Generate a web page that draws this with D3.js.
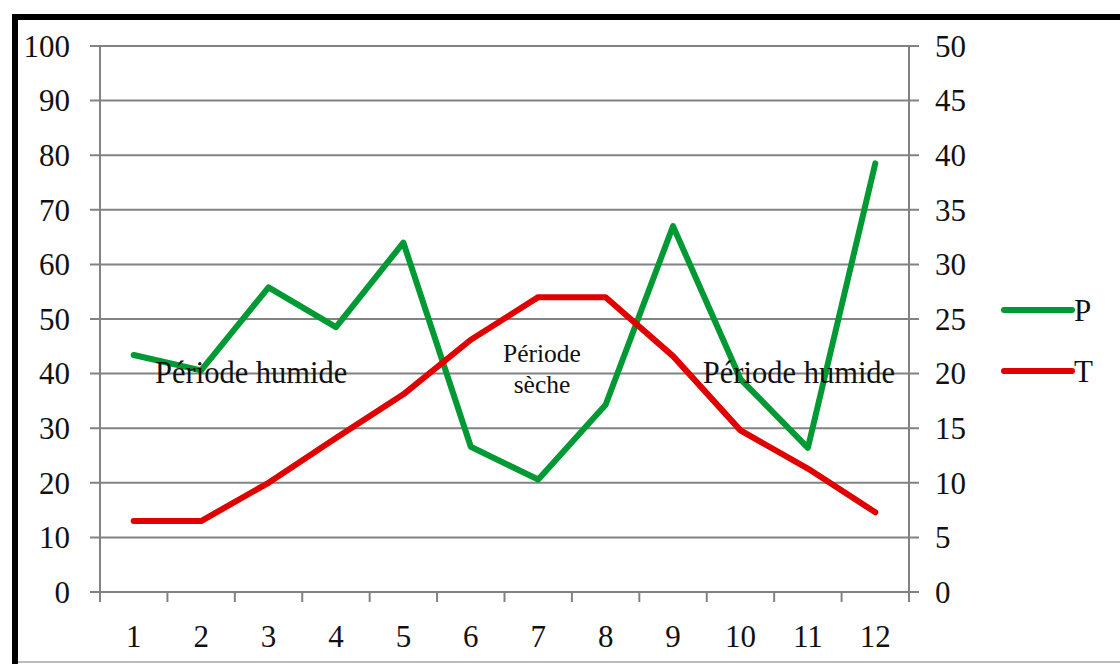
<!DOCTYPE html>
<html>
<head>
  <meta http-equiv="Content-Type" content="text/html;charset=utf-8" />
  <style type="text/css">
    body { margin: 0; background: #fff; }
    svg text { font-family: "Liberation Serif", "Times New Roman", Times, serif; fill: #111; }
  </style>
</head>
<body>
  <div id="svgContainer"></div>
  <script src="https://d3js.org/d3.v7.min.js"></script>
  <script type="text/javascript">
    var w = 1120;
    var h = 664;

    // data
    var months = ["1", "2", "3", "4", "5", "6", "7", "8", "9", "10", "11", "12"];
    var precip = [43.4, 40.6, 55.8, 48.5, 64.0, 26.6, 20.6, 34.3, 67.0, 39.0, 26.4, 78.5]; // P, left axis
    var temp = [6.5, 6.5, 10.0, 14.1, 18.1, 23.1, 27.0, 27.0, 21.6, 14.8, 11.3, 7.3];      // T, right axis
    var pTicks = [0, 10, 20, 30, 40, 50, 60, 70, 80, 90, 100];
    var tTicks = [0, 5, 10, 15, 20, 25, 30, 35, 40, 45, 50];
    var series = [
      { name: "P", color: "#009933" },
      { name: "T", color: "#e00000" }
    ];

    // plot box (don't call it "top", that's window.top)
    var pl = 100, pr = 909, pt = 46, pb = 592;
    var fs = 31; // tick / legend font size

    var svg = d3.select("#svgContainer")
      .append("svg")
      .attr("width", w)
      .attr("height", h)
      .attr("font-family", "'Liberation Serif', 'Times New Roman', serif");

    // frame of the pasted picture, right and bottom sides run off the page
    svg.append("rect")
      .attr("x", 15).attr("y", 17)
      .attr("width", w + 20).attr("height", h + 20)
      .attr("fill", "none").attr("stroke", "#000").attr("stroke-width", 6);
    svg.append("line")
      .attr("x1", 18).attr("x2", w).attr("y1", 662).attr("y2", 662)
      .attr("stroke", "#bbb").attr("stroke-width", 2);

    var x = d3.scaleBand().domain(months).range([pl, pr]).padding(0);
    var yP = d3.scaleLinear().domain([0, 100]).range([pb, pt]);
    var yT = d3.scaleLinear().domain([0, 50]).range([pb, pt]);
    var cx = function (d) { return x(d) + x.bandwidth() / 2; };

    // gridlines (they also serve as the outer ticks on both sides)
    svg.append("g").selectAll("line")
      .data(pTicks)
      .join("line")
      .attr("x1", pl - 10).attr("x2", pr + 10)
      .attr("y1", function (d) { return yP(d); })
      .attr("y2", function (d) { return yP(d); })
      .attr("stroke", "#828282").attr("stroke-width", 2);

    // vertical axis lines
    [pl, pr].forEach(function (px) {
      svg.append("line")
        .attr("x1", px).attr("x2", px).attr("y1", pt).attr("y2", pb)
        .attr("stroke", "#828282").attr("stroke-width", 2);
    });

    // x ticks between categories
    var bounds = months.map(function (m) { return x(m); }).concat([pr]);
    svg.append("g").selectAll("line")
      .data(bounds)
      .join("line")
      .attr("x1", function (d) { return d; }).attr("x2", function (d) { return d; })
      .attr("y1", pb).attr("y2", pb + 10)
      .attr("stroke", "#828282").attr("stroke-width", 2);

    // tick labels
    svg.append("g").selectAll("text")
      .data(pTicks)
      .join("text")
      .attr("x", 70)
      .attr("y", function (d) { return yP(d); })
      .attr("dy", "0.35em")
      .attr("text-anchor", "end")
      .attr("font-size", fs)
      .text(function (d) { return d; });

    svg.append("g").selectAll("text")
      .data(tTicks)
      .join("text")
      .attr("x", 935)
      .attr("y", function (d) { return yT(d); })
      .attr("dy", "0.35em")
      .attr("font-size", fs)
      .text(function (d) { return d; });

    svg.append("g").selectAll("text")
      .data(months)
      .join("text")
      .attr("x", cx)
      .attr("y", 647)
      .attr("text-anchor", "middle")
      .attr("font-size", fs)
      .text(function (d) { return d; });

    var lineP = d3.line()
      .x(function (d, i) { return cx(months[i]); })
      .y(function (d) { return yP(d); });
    var lineT = d3.line()
      .x(function (d, i) { return cx(months[i]); })
      .y(function (d) { return yT(d); });

    svg.append("path")
      .attr("d", lineP(precip))
      .attr("fill", "none")
      .attr("stroke", series[0].color)
      .attr("stroke-width", 6)
      .attr("stroke-linejoin", "round")
      .attr("stroke-linecap", "round");

    svg.append("path")
      .attr("d", lineT(temp))
      .attr("fill", "none")
      .attr("stroke", series[1].color)
      .attr("stroke-width", 6)
      .attr("stroke-linejoin", "round")
      .attr("stroke-linecap", "round");

    // annotations sit on top of the lines
    var ann = svg.append("g");
    ann.append("text").attr("x", 155).attr("y", 383).attr("font-size", 30.5).text("Période humide");
    ann.append("text").attr("x", 799).attr("y", 383).attr("font-size", 30.5)
      .attr("text-anchor", "middle").text("Période humide");
    ann.append("text").attr("x", 542).attr("y", 362).attr("font-size", 25.5)
      .attr("text-anchor", "middle").text("Période");
    ann.append("text").attr("x", 542).attr("y", 393).attr("font-size", 25.5)
      .attr("text-anchor", "middle").text("sèche");

    // legend
    var legend = svg.append("g").selectAll("g")
      .data(series)
      .join("g")
      .attr("transform", function (d, i) { return "translate(1004," + (310 + i * 61) + ")"; });
    legend.append("line")
      .attr("x1", 0).attr("x2", 68)
      .attr("stroke", function (d) { return d.color; })
      .attr("stroke-width", 6)
      .attr("stroke-linecap", "round");
    legend.append("text")
      .attr("x", 70)
      .attr("dy", "0.35em")
      .attr("font-size", fs)
      .text(function (d) { return d.name; });
  </script>
</body>
</html>
